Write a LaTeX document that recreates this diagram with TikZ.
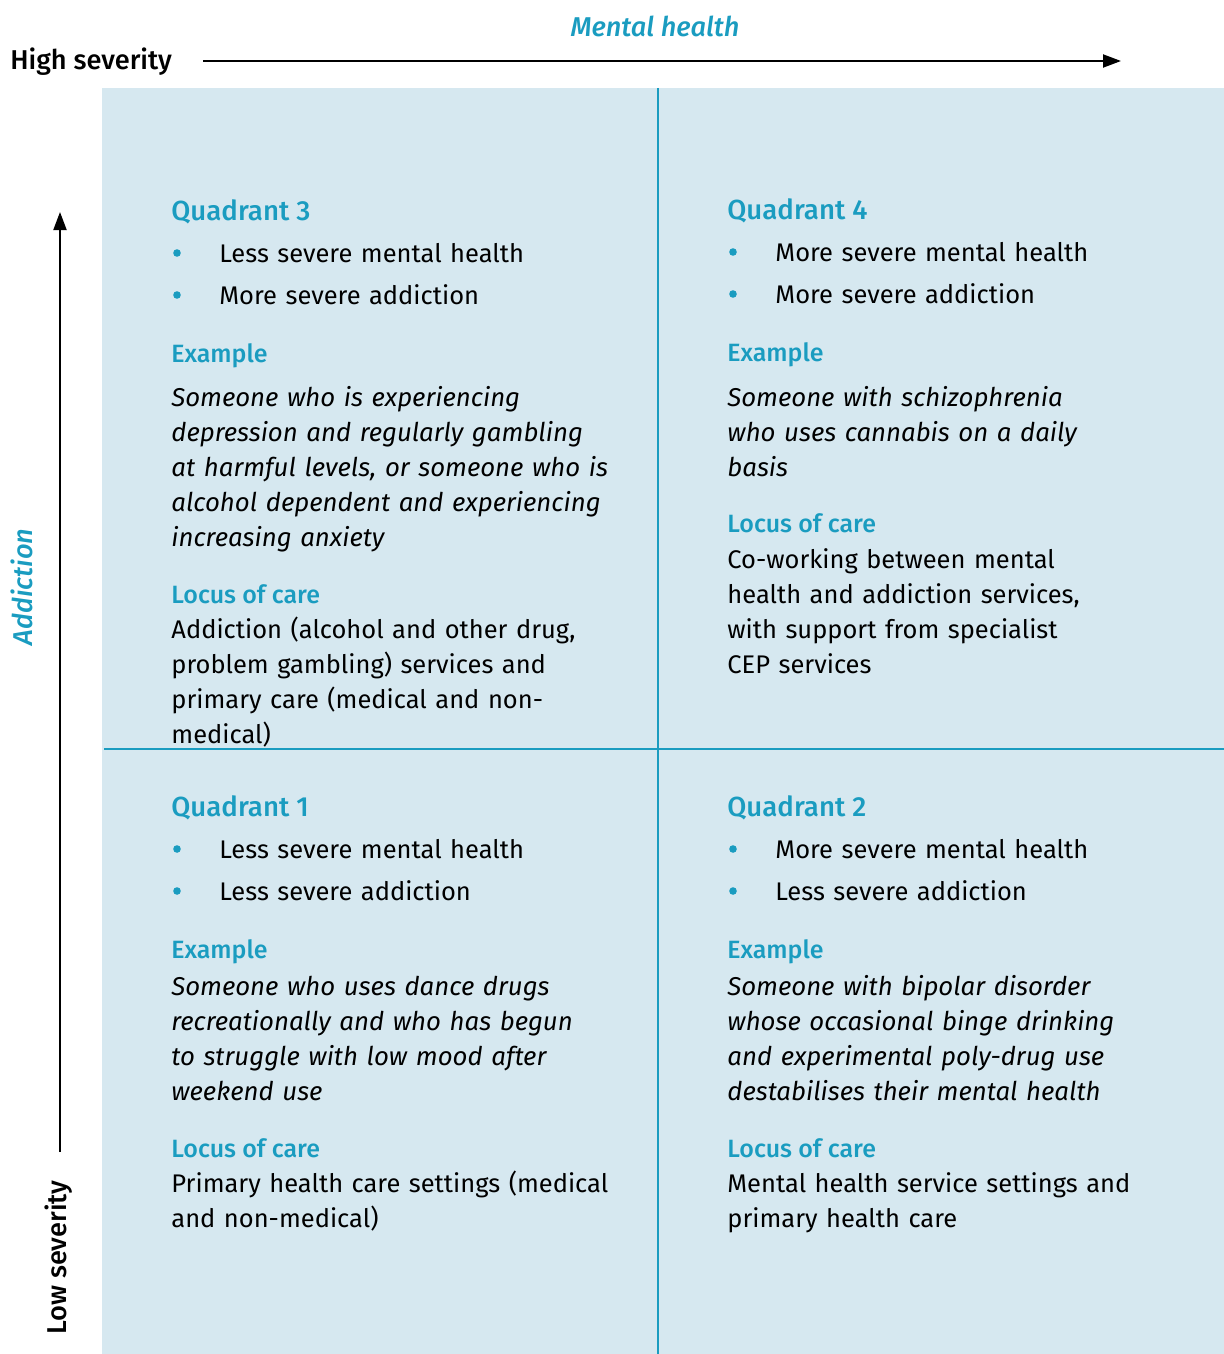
\documentclass[tikz,border=0pt]{standalone}
\usepackage{fontspec}
\setmainfont{Fira Sans}
\newfontfamily\medfont{Fira Sans}[UprightFont={* Medium}, ItalicFont={* Medium Italic}]
\usetikzlibrary{arrows.meta}
\definecolor{teal}{HTML}{1A9CC0}
\definecolor{bgblue}{HTML}{D6E8F0}
\tikzset{
  body/.style={anchor=base west, inner sep=0pt, text width=#1, align=left,
    font=\fontsize{12.75}{17.5}\selectfont},
  body/.default=235pt,
  ital/.style={body, font=\fontsize{12.9}{17.5}\itshape},
  head/.style={anchor=base west, inner sep=0pt, text=teal,
    font=\medfont\fontsize{13.8}{17.5}\selectfont},
  sub/.style={anchor=base west, inner sep=0pt, text=teal,
    font=\medfont\fontsize{12.5}{17.5}\selectfont},
  dot/.style={circle, fill=teal, inner sep=0pt, minimum size=3.8pt},
  divider/.style={draw=teal, line width=1.3pt},
  axis/.style={draw=black, line width=1pt, -{Triangle[length=9pt,width=6.5pt]}},
}
\begin{document}
\begin{tikzpicture}[x=0.5pt,y=-0.5pt]
\useasboundingbox (0,0) rectangle (1224,1354);
% background
\fill[bgblue] (102,88) rectangle (1224,1354);
\draw[divider] (658,88) -- (658,1354);
\draw[divider] (104,749) -- (1224,749);

% axes
\node[anchor=base west, inner sep=0pt, font=\medfont\fontsize{13.6}{16}\selectfont] (high) at (10,70) {High severity};
\coordinate (hstart) at (203,61);
\coordinate (hend) at (1121,61);
\draw[axis] (hstart) -- (hend);
\node[inner sep=0pt, text=teal, font=\medfont\fontsize{13.6}{16}\itshape] (mh) at (655,26) {Mental health};

\node[rotate=90, anchor=base west, inner sep=0pt, font=\medfont\fontsize{13.6}{16}\selectfont] (low) at (66,1335) {Low severity};
\coordinate (vstart) at (60,1152);
\coordinate (vend) at (60,212);
\draw[axis] (vstart) -- (vend);
\node[rotate=90, inner sep=0pt, text=teal, font=\medfont\fontsize{13.6}{16}\itshape] (add) at (22,587) {Addiction};

% ---------- Quadrant 3 (top left)
\node[head] (q3) at (171,220) {Quadrant 3};
\node[dot] (q3d1) at (177,253) {};
\node[body] (q3b1) at (219,262) {Less severe mental health};
\node[dot] (q3d2) at (177,295) {};
\node[body] (q3b2) at (219,304) {More severe addiction};
\node[sub] (q3e) at (171,362) {Example};
\node[ital] (q3et) at (171,406) {Someone who is experiencing\\depression and regularly gambling\\at harmful levels, or someone who is\\alcohol dependent and experiencing\\increasing anxiety};
\node[sub] (q3l) at (171,603) {Locus of care};
\node[body] (q3lt) at (171,638) {Addiction (alcohol and other drug,\\problem gambling) services and\\primary care (medical and non-\\medical)};

% ---------- Quadrant 4 (top right)
\node[head] (q4) at (727,219) {Quadrant 4};
\node[dot] (q4d1) at (733,252) {};
\node[body] (q4b1) at (775,261) {More severe mental health};
\node[dot] (q4d2) at (733,294) {};
\node[body] (q4b2) at (775,303) {More severe addiction};
\node[sub] (q4e) at (727,361) {Example};
\node[ital] (q4et) at (727,406) {Someone with schizophrenia\\who uses cannabis on a daily\\basis};
\node[sub] (q4l) at (727,532) {Locus of care};
\node[body] (q4lt) at (727,568) {Co-working between mental\\health and addiction services,\\with support from specialist\\CEP services};

% ---------- Quadrant 1 (bottom left)
\node[head] (q1) at (171,816) {Quadrant 1};
\node[dot] (q1d1) at (177,849) {};
\node[body] (q1b1) at (219,858) {Less severe mental health};
\node[dot] (q1d2) at (177,891) {};
\node[body] (q1b2) at (219,900) {Less severe addiction};
\node[sub] (q1e) at (171,958) {Example};
\node[ital] (q1et) at (171,995) {Someone who uses dance drugs\\recreationally and who has begun\\to struggle with low mood after\\weekend use};
\node[sub] (q1l) at (171,1157) {Locus of care};
\node[body] (q1lt) at (171,1192) {Primary health care settings (medical\\and non-medical)};

% ---------- Quadrant 2 (bottom right)
\node[head] (q2) at (727,816) {Quadrant 2};
\node[dot] (q2d1) at (733,849) {};
\node[body] (q2b1) at (775,858) {More severe mental health};
\node[dot] (q2d2) at (733,891) {};
\node[body] (q2b2) at (775,900) {Less severe addiction};
\node[sub] (q2e) at (727,958) {Example};
\node[ital] (q2et) at (727,995) {Someone with bipolar disorder\\whose occasional binge drinking\\and experimental poly-drug use\\destabilises their mental health};
\node[sub] (q2l) at (727,1157) {Locus of care};
\node[body] (q2lt) at (727,1192) {Mental health service settings and\\primary health care};
\end{tikzpicture}
\end{document}
